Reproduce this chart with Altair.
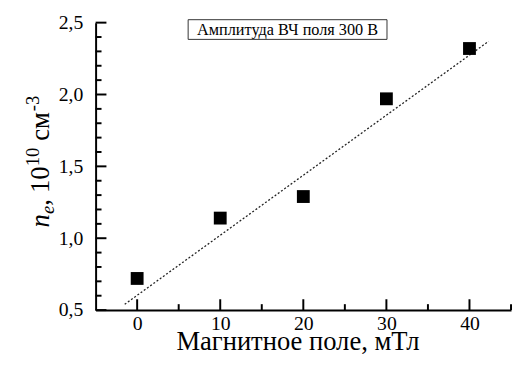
import altair as alt
import pandas as pd

# data
field = [0, 10, 20, 30, 40]
ne = [0.72, 1.14, 1.29, 1.97, 2.32]
fit_x = [-1.5, 42.3]
fit_y = [0.54, 2.37]

x_major = [0, 10, 20, 30, 40]
x_minor = [5, 15, 25, 35, 45]
y_major = [0.5, 1.0, 1.5, 2.0, 2.5]
y_minor = [0.6, 0.7, 0.8, 0.9, 1.1, 1.2, 1.3, 1.4, 1.6, 1.7, 1.8, 1.9, 2.1, 2.2, 2.3, 2.4]

legend_text = "Амплитуда ВЧ поля 300 В"
x_title = "Магнитное поле, мТл"

W, H = 422, 292
FONT = "Liberation Serif"

xs = alt.Scale(domain=[-5, 45], nice=False, zero=False)
ys = alt.Scale(domain=[0.5, 2.5], nice=False, zero=False)

xaxis = alt.Axis(values=x_major, ticks=False, tickSize=0, grid=False, domainWidth=2,
                 domainColor="black", labelFont=FONT, labelFontSize=20, labelColor="black",
                 labelPadding=4, title=x_title, titleFont=FONT, titleFontSize=27,
                 titleFontWeight="normal", titleColor="black", titleX=205, titleY=40,
                 titleBaseline="alphabetic", titleAlign="center")
yaxis = alt.Axis(values=y_major, ticks=False, tickSize=0, grid=False, domainWidth=2,
                 domainColor="black", labelFont=FONT, labelFontSize=20, labelColor="black",
                 labelPadding=13, title="",
                 labelExpr="replace(format(datum.value, '.1f'), '.', ',')")

X = lambda: alt.X("x:Q", scale=xs, axis=xaxis)
Y = lambda: alt.Y("y:Q", scale=ys, axis=yaxis)

pts = pd.DataFrame({"x": field, "y": ne})
fit = pd.DataFrame({"x": fit_x, "y": fit_y})

points = alt.Chart(pts).mark_point(shape="square", filled=True, size=170, color="black",
                                   opacity=1).encode(x=X(), y=Y())
line = alt.Chart(fit).mark_line(strokeDash=[2, 2], strokeWidth=1.3, color="#222").encode(x=X(), y=Y())

xmaj = alt.Chart(pd.DataFrame({"x": x_major})).mark_rule(strokeWidth=2, color="black").encode(
    x=X(), y=alt.value(H), y2=alt.value(H - 11))
xmin = alt.Chart(pd.DataFrame({"x": x_minor})).mark_rule(strokeWidth=2, color="black").encode(
    x=X(), y=alt.value(H), y2=alt.value(H - 6))
ymaj = alt.Chart(pd.DataFrame({"y": y_major})).mark_rule(strokeWidth=2, color="black").encode(
    y=Y(), x=alt.value(0), x2=alt.value(11))
ymin = alt.Chart(pd.DataFrame({"y": y_minor})).mark_rule(strokeWidth=2, color="black").encode(
    y=Y(), x=alt.value(0), x2=alt.value(6))

one = pd.DataFrame({"a": [0]})
box = alt.Chart(one).mark_rect(fill="white", stroke="#333", strokeWidth=1).encode(
    x=alt.value(94), x2=alt.value(296), y=alt.value(-3), y2=alt.value(17))
box_text = alt.Chart(one).mark_text(text=legend_text, font=FONT, fontSize=16.5, color="black",
                                    align="center", baseline="middle").encode(
    x=alt.value(195), y=alt.value(7.5))

# y-axis title made of pieces (rotated): text, size, style, baseline shift, advance
BX = -47
MAIN, SUB = 27, 19
pieces = [
    ("n", MAIN, "italic", 0, 13.5),
    ("e", SUB, "italic", 5, 8.5),
    (",", MAIN, "normal", 0, 13),
    ("10", MAIN, "normal", 0, 27),
    ("10", SUB, "normal", -11, 26),
    ("см", MAIN, "normal", 0, 30),
    ("-3", SUB, "normal", -11, 16),
]
ytitle_layers = []
ypos = 208
for txt, fs, style, shift, w in pieces:
    ytitle_layers.append(
        alt.Chart(one).mark_text(text=txt, font=FONT, fontSize=fs, fontStyle=style, color="black",
                                 angle=270, align="left", baseline="alphabetic").encode(
            x=alt.value(BX + shift), y=alt.value(ypos)))
    ypos -= w

chart = alt.layer(xmin, xmaj, ymin, ymaj, line, points, box, box_text, *ytitle_layers).properties(
    width=W, height=H,
    autosize=alt.AutoSizeParams(type="none"),
    padding={"left": 89, "top": 12, "right": 1, "bottom": 58},
    background="white",
).configure_view(stroke=None).configure_axis(labelFont=FONT, titleFont=FONT).configure_text(font=FONT)

chart.save("out.html", embed_options={"renderer": "svg", "actions": False})
